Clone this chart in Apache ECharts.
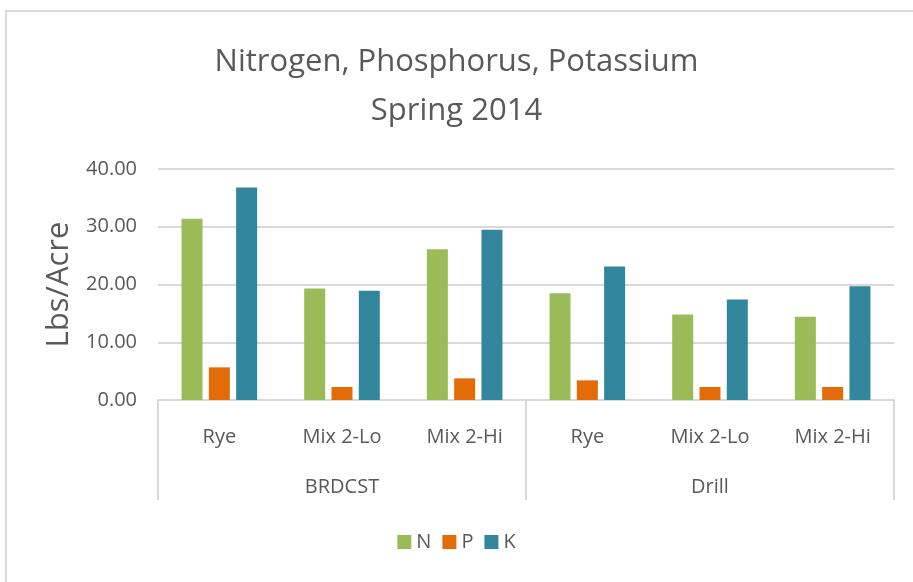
<!DOCTYPE html>
<html>
<head>
<meta charset="utf-8">
<script src="https://cdn.jsdelivr.net/npm/echarts@6/dist/echarts.min.js"></script>
<style>html,body{margin:0;padding:0;background:#fff;}#c{width:913px;height:582px;}</style>
</head>
<body>
<div id="c"></div>
<script>
const categories = ['Rye', 'Mix 2-Lo', 'Mix 2-Hi', 'Rye', 'Mix 2-Lo', 'Mix 2-Hi'];
const groups = ['BRDCST', 'Drill'];
const nValues = [31.4, 19.3, 26.1, 18.5, 14.8, 14.4];
const pValues = [5.65, 2.25, 3.75, 3.4, 2.25, 2.25];
const kValues = [36.8, 18.9, 29.5, 23.1, 17.4, 19.7];
const yTicks = { min: 0, max: 40, interval: 10 };

const FONT = '"Liberation Sans Narrow", "Open Sans", sans-serif';
const TXT = '#595959';
const GRID = '#d9d9d9';

const chart = echarts.init(document.getElementById('c'), null, { renderer: 'canvas' });
chart.setOption({
  backgroundColor: '#fff',
  animation: false,
  textStyle: { fontFamily: FONT, color: TXT },
  graphic: [{
    type: 'polyline',
    shape: { points: [[6, 600], [6, 11], [920, 11]] },
    style: { stroke: GRID, lineWidth: 2, fill: null },
    silent: true
  }],
  title: {
    text: 'Nitrogen, Phosphorus, Potassium\nSpring 2014',
    left: 'center',
    top: 33,
    textStyle: { fontFamily: FONT, fontWeight: 'normal', fontSize: 31, lineHeight: 49, color: TXT }
  },
  legend: {
    bottom: 25,
    left: 'center',
    itemWidth: 14,
    itemHeight: 14,
    itemGap: 11,
    icon: 'rect',
    textStyle: { fontFamily: FONT, fontSize: 20, color: TXT },
    data: ['N', 'P', 'K']
  },
  grid: { left: 158, right: 19, top: 169, bottom: 182, containLabel: false },
  xAxis: [{
    type: 'category',
    data: categories,
    position: 'bottom',
    axisLine: { show: true, lineStyle: { color: GRID, width: 2 } },
    axisTick: { show: false },
    axisLabel: { margin: 27, fontFamily: FONT, fontSize: 20, color: TXT, interval: 0 },
    splitLine: { show: false }
  }, {
    type: 'category',
    data: groups,
    position: 'bottom',
    axisLine: { show: false },
    axisTick: { show: true, length: 100, lineStyle: { color: GRID, width: 2 } },
    axisLabel: { margin: 77, fontFamily: FONT, fontSize: 20, color: TXT, interval: 0 },
    splitLine: { show: false }
  }],
  yAxis: {
    type: 'value',
    min: yTicks.min,
    max: yTicks.max,
    interval: yTicks.interval,
    name: 'Lbs/Acre',
    nameLocation: 'middle',
    nameRotate: 90,
    nameGap: 82,
    nameTextStyle: { fontFamily: FONT, fontSize: 31, color: TXT },
    axisLine: { show: false },
    axisTick: { show: false },
    axisLabel: { margin: 21, fontFamily: FONT, fontSize: 20, color: TXT, formatter: v => v.toFixed(2) },
    splitLine: { lineStyle: { color: GRID, width: 2 } }
  },
  series: [
    { name: 'N', type: 'bar', xAxisIndex: 0, data: nValues, itemStyle: { color: '#9BBB59' }, barWidth: 21, barGap: '30%' },
    { name: 'P', type: 'bar', xAxisIndex: 0, data: pValues, itemStyle: { color: '#E36C09' }, barWidth: 21, barGap: '30%' },
    { name: 'K', type: 'bar', xAxisIndex: 0, data: kValues, itemStyle: { color: '#31859C' }, barWidth: 21, barGap: '30%' }
  ]
});
</script>
</body>
</html>
